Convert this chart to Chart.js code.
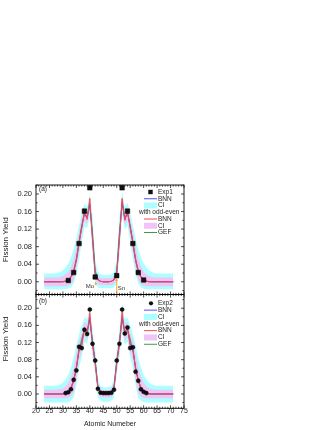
<!DOCTYPE html>
<html><head><meta charset="utf-8">
<script src="https://cdn.jsdelivr.net/npm/chart.js@4.4.0/dist/chart.umd.min.js"></script>
<style>
html,body{margin:0;padding:0;background:#fff;width:332px;height:430px;overflow:hidden}
canvas{position:absolute;left:0}
</style></head><body>
<canvas id="ca" width="200" height="120" style="top:175px"></canvas>
<canvas id="cb" width="200" height="136" style="top:294px"></canvas>
<script>
// ---------- data ----------
const zGrid = [23,24,25,26,27,28,29,30,31,32,33,34,35,36,37,38,39,40,41,42,43,44,45,46,47,48,49,50,51,52,53,54,55,56,57,58,59,60,61,62,63,64,65,66,67,68,69,70,71];
const xTicks = [20,25,30,35,40,45,50,55,60,65,70,75];
const yTicks = [0.00,0.04,0.08,0.12,0.16,0.20];

// panel (a)
const exp1Z = [32,34,36,38,40,42,50,52,54,56,58,60];
const exp1Y = [0.003,0.021,0.087,0.161,0.214,0.011,0.014,0.214,0.161,0.087,0.021,0.004];
const bnnA = [0,0,0,0,0,0,0,0,
  .001,.004,.010,.022,.048,.087,.125,.155,.145,.178,
  .100,.018,.005,.001,0,0,0,.001,.005,.018,
  .100,.183,.142,.158,.125,.087,.048,.022,.010,.004,
  .001,0,0,0,0,0,0,0,0,0,0];
const oeA = [0,0,0,0,0,0,0,0,
  .001,.004,.011,.024,.050,.090,.122,.160,.142,.190,
  .095,.016,.004,.001,0,0,0,.001,.004,.016,
  .095,.190,.140,.162,.122,.090,.050,.024,.011,.004,
  .001,0,0,0,0,0,0,0,0,0,0];
const gefA = [0,0,0,0,0,0,0,.0005,
  .002,.005,.012,.026,.053,.092,.128,.157,.148,.175,
  .112,.025,.006,.001,0,0,0,.001,.006,.025,
  .112,.178,.146,.157,.128,.092,.053,.026,.012,.005,
  .002,.0005,0,0,0,0,0,0,0,0,0];
const ciUpA = [.019,.019,.019,.019,.019,.020,.022,.026,
  .033,.042,.056,.075,.100,.128,.158,.178,.172,.200,
  .150,.050,.022,.017,.016,.015,.016,.017,.022,.050,
  .150,.205,.170,.180,.158,.128,.100,.075,.056,.042,
  .033,.026,.022,.020,.019,.019,.019,.019,.019,.019,.019];
const ciLoA = [-.017,-.017,-.017,-.017,-.017,-.017,-.017,-.017,
  -.017,-.016,-.013,-.004,.018,.052,.090,.125,.122,.148,
  .062,-.004,-.013,-.015,-.015,-.015,-.015,-.015,-.013,-.004,
  .062,.152,.118,.128,.090,.052,.018,-.004,-.013,-.016,
  -.017,-.017,-.017,-.017,-.017,-.017,-.017,-.017,-.017,-.017,-.017];
const oeUpA = [.010,.010,.010,.010,.010,.010,.011,.013,
  .017,.023,.034,.052,.078,.112,.145,.167,.160,.190,
  .125,.032,.013,.009,.008,.008,.008,.009,.013,.032,
  .125,.195,.157,.170,.145,.112,.078,.052,.034,.023,
  .017,.013,.011,.010,.010,.010,.010,.010,.010,.010,.010];
const oeLoA = [-.010,-.010,-.010,-.010,-.010,-.010,-.010,-.010,
  -.010,-.009,-.005,.004,.032,.068,.107,.138,.132,.162,
  .080,.006,-.005,-.008,-.008,-.008,-.008,-.008,-.005,.006,
  .080,.167,.128,.142,.107,.068,.032,.004,-.005,-.009,
  -.010,-.010,-.010,-.010,-.010,-.010,-.010,-.010,-.010,-.010,-.010];

// panel (b)
const exp2Z = [31,32,33,34,35,36,37,38,39,40,41,42,43,44,45,46,47,48,49,50,51,52,53,54,55,56,57,58,59,60,61];
const exp2Y = [.002,.004,.011,.033,.055,.110,.107,.150,.140,.197,
  .117,.078,.012,.003,.002,.002,.002,.003,.010,.078,
  .117,.197,.141,.155,.107,.109,.052,.031,.011,.005,.002];
const bnnB = [0,0,0,0,0,0,0,0,
  .002,.005,.013,.030,.060,.105,.118,.152,.142,.178,
  .118,.075,.015,.004,.002,.002,.002,.004,.015,.075,
  .118,.180,.142,.152,.118,.105,.060,.030,.013,.005,
  .002,0,0,0,0,0,0,0,0,0,0];
const oeB = [0,0,0,0,0,0,0,0,
  .002,.005,.012,.032,.058,.108,.112,.155,.138,.190,
  .115,.070,.013,.004,.002,.002,.002,.004,.013,.070,
  .115,.192,.138,.155,.112,.108,.058,.032,.012,.005,
  .002,0,0,0,0,0,0,0,0,0,0];
const gefB = [0,0,0,0,0,0,0,.0005,
  .002,.006,.015,.033,.063,.100,.128,.150,.148,.172,
  .120,.078,.018,.005,.002,.002,.002,.005,.018,.078,
  .120,.174,.148,.150,.128,.100,.063,.033,.015,.006,
  .002,.0005,0,0,0,0,0,0,0,0,0];
const ciUpB = [.019,.019,.019,.019,.019,.020,.022,.027,
  .034,.045,.062,.085,.115,.140,.160,.178,.175,.200,
  .150,.100,.035,.018,.016,.015,.016,.018,.035,.100,
  .150,.212,.175,.178,.160,.140,.115,.085,.062,.045,
  .034,.027,.022,.020,.019,.019,.019,.019,.019,.019,.019];
const ciLoB = [-.020,-.020,-.020,-.020,-.020,-.020,-.020,-.020,
  -.020,-.019,-.016,-.008,.020,.062,.085,.122,.118,.145,
  .085,.045,-.008,-.016,-.018,-.018,-.018,-.016,-.008,.045,
  .085,.148,.115,.122,.085,.062,.020,-.008,-.016,-.019,
  -.020,-.020,-.020,-.020,-.020,-.020,-.020,-.020,-.020,-.020,-.020];
const oeUpB = [.010,.010,.010,.010,.010,.010,.011,.013,
  .018,.026,.040,.062,.092,.125,.142,.168,.162,.192,
  .138,.090,.026,.011,.009,.009,.009,.011,.026,.090,
  .138,.198,.162,.168,.142,.125,.092,.062,.040,.026,
  .018,.013,.011,.010,.010,.010,.010,.010,.010,.010,.010];
const oeLoB = [-.010,-.010,-.010,-.010,-.010,-.010,-.010,-.010,
  -.010,-.009,-.006,.004,.032,.080,.098,.135,.128,.160,
  .098,.058,.002,-.007,-.008,-.008,-.008,-.007,.002,.058,
  .098,.162,.125,.135,.098,.080,.032,.004,-.006,-.009,
  -.010,-.010,-.010,-.010,-.010,-.010,-.010,-.010,-.010,-.010,-.010];

const legendA = ['Exp1','BNN','CI','with odd-even','BNN','CI','GEF'];
const legendB = ['Exp2','BNN','CI','with odd-even','BNN','CI','GEF'];

// ---------- styles ----------
const FONT = "'Liberation Sans', Arial, Helvetica, sans-serif";
const C_BLUE = '#5252ff', C_RED = '#ff4848', C_GREEN = '#3f9f3f';
const C_CYAN = '#adffff', C_VIOLET = '#f0c4f7', C_ORANGE = '#ff9a1a';

function pts(zs, ys){ return zs.map((z,i)=>({x:z, y:ys[i]})); }

function buildDatasets(expLabel, expZ, expY, expStyle, expR, bnn, oe, gef, ciUp, ciLo, oeUp, oeLo){
  const line = (label, d, color, order) => ({type:'line', label, data: pts(zGrid,d), borderColor: color,
    borderWidth: 1, pointRadius: 0, tension: 0, fill: false, order});
  return [
    {type:'line', label: expLabel, data: pts(expZ, expY), showLine:false, pointStyle: expStyle,
      pointRadius: expR, pointBackgroundColor:'#111', pointBorderColor:'#000', pointBorderWidth: 0.5, order: 0},
    line('BNN with odd-even', oe, C_RED, 1),
    line('BNN', bnn, C_BLUE, 2),
    line('GEF', gef, C_GREEN, 3),
    {type:'line', label:'CI with odd-even', data: pts(zGrid,oeUp), borderWidth:0, pointRadius:0, tension:0,
      fill: 5, backgroundColor: C_VIOLET, order: 9},
    {type:'line', label:'CI odd-even lower', data: pts(zGrid,oeLo), borderWidth:0, pointRadius:0, tension:0,
      fill: false, order: 9},
    {type:'line', label:'CI', data: pts(zGrid,ciUp), borderWidth:0, pointRadius:0, tension:0,
      fill: 7, backgroundColor: C_CYAN, order: 10},
    {type:'line', label:'CI lower', data: pts(zGrid,ciLo), borderWidth:0, pointRadius:0, tension:0,
      fill: false, order: 10}
  ];
}

function decorPlugin(cfg){
  return {
    id: 'decor' + cfg.name,
    afterDraw(chart){
      const {ctx, chartArea: ca} = chart;
      const xs = chart.scales.x, ys = chart.scales.y;
      ctx.save();
      // frame
      ctx.strokeStyle = '#000'; ctx.lineWidth = 0.9;
      ctx.strokeRect(ca.left, ca.top, ca.right - ca.left, ca.bottom - ca.top);
      // inward ticks
      ctx.lineWidth = 0.7;
      ctx.beginPath();
      for (let v = xs.min; v <= xs.max + 1e-9; v += 1){
        const len = (Math.round(v) % 5 === 0) ? 3 : 1.6;
        const p = xs.getPixelForValue(v);
        ctx.moveTo(p, ca.bottom); ctx.lineTo(p, ca.bottom - len);
        ctx.moveTo(p, ca.top); ctx.lineTo(p, ca.top + len);
      }
      const k0 = Math.ceil(ys.min / 0.02 - 1e-9), k1 = Math.floor(ys.max / 0.02 + 1e-9);
      for (let k = k0; k <= k1; k++){
        const len = (k % 2 === 0) ? 3 : 1.6;
        const p = ys.getPixelForValue(k * 0.02);
        ctx.moveTo(ca.left, p); ctx.lineTo(ca.left + len, p);
        ctx.moveTo(ca.right, p); ctx.lineTo(ca.right - len, p);
      }
      ctx.stroke();

      // panel label
      ctx.fillStyle = '#222';
      ctx.font = '6.5px ' + FONT;
      ctx.textBaseline = 'middle'; ctx.textAlign = 'left';
      ctx.fillText(cfg.panel, ca.left + 3, ca.top + cfg.panelDy);

      // legend
      const items = cfg.legend;
      const kinds = [cfg.expKind, 'lineB', 'boxC', 'text', 'lineR', 'boxV', 'lineG'];
      for (let i = 0; i < items.length; i++){
        const yy = ca.top + cfg.legTop + i * cfg.legStep;
        const kind = kinds[i];
        const x0 = ca.left + 108, x1 = ca.left + 121, xm = (x0 + x1) / 2;
        if (kind === 'square'){
          ctx.fillStyle = '#111'; ctx.fillRect(xm - 2.2, yy - 2.2, 4.4, 4.4);
        } else if (kind === 'circle'){
          ctx.fillStyle = '#111'; ctx.beginPath(); ctx.arc(xm + 0.5, yy, 2.1, 0, Math.PI*2); ctx.fill();
        } else if (kind.startsWith('line')){
          ctx.strokeStyle = kind === 'lineB' ? C_BLUE : kind === 'lineR' ? C_RED : C_GREEN;
          ctx.lineWidth = 1; ctx.beginPath(); ctx.moveTo(x0, yy); ctx.lineTo(x1, yy); ctx.stroke();
        } else if (kind.startsWith('box')){
          ctx.fillStyle = kind === 'boxC' ? C_CYAN : C_VIOLET;
          ctx.fillRect(x0, yy - 3, x1 - x0, 6);
        }
        ctx.fillStyle = '#222'; ctx.font = '6.5px ' + FONT; ctx.textAlign = 'left';
        ctx.fillText(items[i], kind === 'text' ? ca.left + 103 : ca.left + 122, yy);
      }

      // annotations (element markers)
      if (cfg.arrows){
        for (const a of cfg.arrows){
          const px = xs.getPixelForValue(a.z);
          const yb = a.from === null ? ca.bottom : ys.getPixelForValue(a.from);
          const yt = ys.getPixelForValue(a.to);
          ctx.strokeStyle = C_ORANGE; ctx.fillStyle = C_ORANGE; ctx.lineWidth = 0.9;
          ctx.beginPath(); ctx.moveTo(px, yb); ctx.lineTo(px, yt + 1.5); ctx.stroke();
          ctx.beginPath(); ctx.moveTo(px, yt); ctx.lineTo(px - 1.3, yt + 2.4); ctx.lineTo(px + 1.3, yt + 2.4); ctx.closePath(); ctx.fill();
          ctx.fillStyle = '#333'; ctx.font = '6px ' + FONT; ctx.textAlign = 'center';
          ctx.fillText(a.text, xs.getPixelForValue(a.tz), ys.getPixelForValue(a.ty));
        }
      }

      // rotated y title drawn manually for panel (b)
      if (cfg.yTitle){
        ctx.translate(6, ca.top + cfg.yTitleDy);
        ctx.rotate(-Math.PI / 2);
        ctx.fillStyle = '#222'; ctx.font = '8px ' + FONT; ctx.textAlign = 'center'; ctx.textBaseline = 'middle';
        ctx.fillText(cfg.yTitle, 0, 0);
      }
      ctx.restore();
    }
  };
}

function makeChart(id, datasets, yMin, yMax, showX, pad, xHeight, yTitleCfg, plugin){
  return new Chart(document.getElementById(id), {
    data: { datasets },
    options: {
      responsive: false, animation: false, devicePixelRatio: 1,
      layout: { padding: pad, autoPadding: false },
      plugins: { legend: {display:false}, tooltip: {enabled:false} },
      scales: {
        x: {
          type: 'linear', min: 20, max: 75,
          grid: { display: false, drawTicks: false }, border: { display: false },
          ticks: { display: showX, stepSize: 5, autoSkip: false, maxRotation: 0, padding: -1,
            color: '#222', font: { family: FONT, size: 7, lineHeight: 1 },
            callback: (v) => xTicks.includes(v) ? String(v) : '' },
          title: { display: showX, text: 'Atomic Numeber', color: '#222',
            font: { family: FONT, size: 7, lineHeight: 1 }, padding: { top: 0, bottom: 2.5 } },
          afterFit: (s) => { s.height = xHeight; s.paddingLeft = 0; s.paddingRight = 0; s.paddingTop = 0; s.paddingBottom = 0; }
        },
        y: {
          type: 'linear', min: yMin, max: yMax,
          grid: { display: false, drawTicks: false }, border: { display: false },
          ticks: { stepSize: 0.04, includeBounds: false, padding: 4, color: '#222',
            font: { family: FONT, size: 7.5, lineHeight: 1 },
            callback: (v) => { const t = yTicks.find(q => Math.abs(q - v) < 1e-6); return t === undefined ? '' : t.toFixed(2); } },
          title: yTitleCfg,
          afterFit: (s) => { s.width = 36; s.paddingTop = 0; s.paddingBottom = 0; s.paddingLeft = 0; s.paddingRight = 0; }
        }
      }
    },
    plugins: [plugin]
  });
}

const dsA = buildDatasets('Exp1', exp1Z, exp1Y, 'rect', 3.2, bnnA, oeA, gefA, ciUpA, ciLoA, oeUpA, oeLoA);
const dsB = buildDatasets('Exp2', exp2Z, exp2Y, 'circle', 2.0, bnnB, oeB, gefB, ciUpB, ciLoB, oeUpB, oeLoB);

makeChart('ca', dsA, -0.029, 0.2205, false, {top:10, right:16, left:0, bottom:0}, 0.5,
  { display: true, text: 'Fission Yield', color: '#222', font: { family: FONT, size: 8, lineHeight: 1 }, padding: { top: 2, bottom: 0 } },
  decorPlugin({ name:'A', panel:'(a)', panelDy: 4.2, legend: legendA, expKind:'square', legTop: 7, legStep: 6.75,
    arrows: [
      { z: 42.2, from: -0.0075, to: 0.0, text: 'Mo', tz: 40.0, ty: -0.0115 },
      { z: 50.0, from: null, to: 0.008, text: 'Sn', tz: 51.7, ty: -0.015 }
    ] }));

makeChart('cb', dsB, -0.0334, 0.232, true, {top:0.5, right:16, left:0, bottom:0}, 21.7,
  { display: false, text: 'Fission Yield' },
  decorPlugin({ name:'B', panel:'(b)', panelDy: 7.2, legend: legendB, expKind:'circle', legTop: 8.8, legStep: 6.83,
    yTitle: 'Fission Yield', yTitleDy: 44.5 }));
</script>
</body></html>
